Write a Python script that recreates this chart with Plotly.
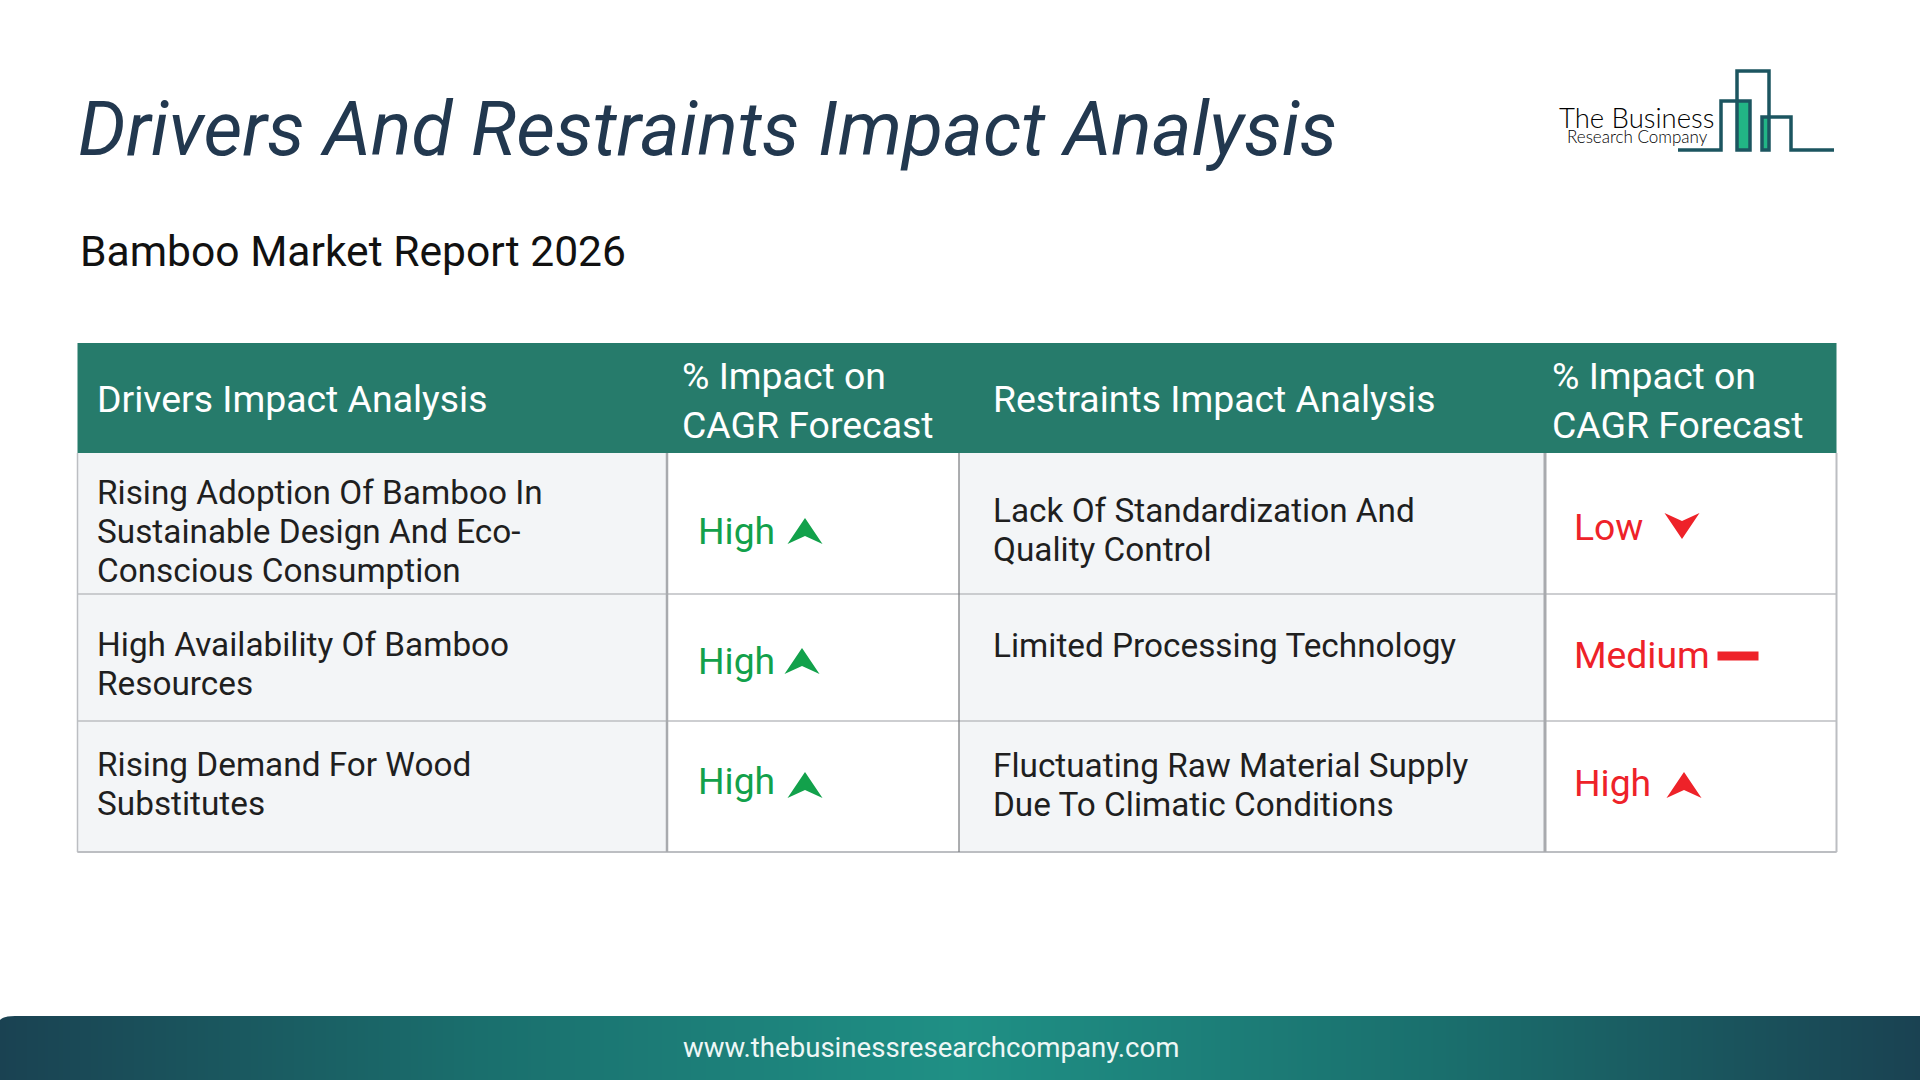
import plotly.graph_objects as go

# ---- content ----
TITLE = "Drivers And Restraints Impact Analysis"
SUBTITLE = "Bamboo Market Report 2026"
FOOTER = "www.thebusinessresearchcompany.com"
LOGO_LINES = ["The Business", "Research Company"]
HEAD_LEFT = "Drivers Impact Analysis"
HEAD_RIGHT = "Restraints Impact Analysis"
HEAD_IMPACT = ["% Impact on", "CAGR Forecast"]
drivers = [
    ["Rising Adoption Of Bamboo In", "Sustainable Design And Eco-", "Conscious Consumption"],
    ["High Availability Of Bamboo", "Resources"],
    ["Rising Demand For Wood", "Substitutes"],
]
driver_impact = ["High", "High", "High"]
restraints = [
    ["Lack Of Standardization And", "Quality Control"],
    ["Limited Processing Technology"],
    ["Fluctuating Raw Material Supply", "Due To Climatic Conditions"],
]
restraint_impact = ["Low", "Medium", "High"]

# ---- layout geometry (pixels of a 1920x1080 canvas) ----
COLS = [77.5, 667, 959, 1545, 1836.5]
ROWS = [343, 453, 594, 721, 852]
DRIVER_Y = [[492, 531, 570], [644, 683], [764, 803]]
RESTRAINT_Y = [[510, 549], [645], [765, 804]]
D_IMPACT_Y = [531, 661, 781]
R_IMPACT_Y = [527, 655, 783]
D_ARROW = [(805, 531), (802, 661), (805, 785)]
R_ARROW = [(1682, 526), (1738, 656), (1684, 785)]
GREEN, RED = "#12a14b", "#ee2229"
FONT = "Roboto"
TXT = "#1f1f1f"
LINE = "#bcbec2"

annotations, shapes = [], []

def text(x, y, s, size, color, anchor="left", **font):
    annotations.append(dict(x=x, y=y, text=s, showarrow=False, xref="x", yref="y",
                            xanchor=anchor, yanchor="middle",
                            font=dict(family=font.pop("family", FONT), size=size, color=color, **font)))

def rect(x0, y0, x1, y1, fill=None, line=None, w=1.5):
    shapes.append(dict(type="rect", xref="x", yref="y", x0=x0, y0=y0, x1=x1, y1=y1,
                       fillcolor=fill or "rgba(0,0,0,0)",
                       line=dict(color=line or "rgba(0,0,0,0)", width=w if line else 0)))

def seg(x0, y0, x1, y1, color=LINE, w=1.5):
    shapes.append(dict(type="line", xref="x", yref="y", x0=x0, y0=y0, x1=x1, y1=y1,
                       line=dict(color=color, width=w)))

def path(d, fill=None, line=None, w=0):
    shapes.append(dict(type="path", xref="x", yref="y", path=d,
                       fillcolor=fill or "rgba(0,0,0,0)",
                       line=dict(color=line or "rgba(0,0,0,0)", width=w)))

def arrow(cx, cy, level, color):
    hw, hh, n = 17.5, 13, 4.5
    if level == "Medium":
        rect(cx - 20.5, cy - 4.5, cx + 20.5, cy + 4.5, fill=color)
        return
    s = 1 if level == "High" else -1
    path(f"M {cx} {cy - s*hh} L {cx + hw} {cy + s*hh} L {cx} {cy + s*(hh - 2*n + 1)} "
         f"L {cx - hw} {cy + s*hh} Z", fill=color)

# table
rect(COLS[0], ROWS[1], COLS[1], ROWS[-1], fill="#f3f5f7")
rect(COLS[2], ROWS[1], COLS[3], ROWS[-1], fill="#f3f5f7")
for y in ROWS[2:]:
    seg(COLS[0], y, COLS[-1], y)
seg(COLS[0], ROWS[-1], COLS[-1], ROWS[-1], w=2)
seg(COLS[0], ROWS[1], COLS[0], ROWS[-1])
seg(COLS[1], ROWS[1], COLS[1], ROWS[-1], color="#a8aaae", w=2.5)
seg(COLS[2], ROWS[1], COLS[2], ROWS[-1], color="#77797c", w=1.2)
seg(COLS[3], ROWS[1], COLS[3], ROWS[-1], color="#a8aaae", w=3)
seg(COLS[4], ROWS[1], COLS[4], ROWS[-1], w=2)
rect(COLS[0], ROWS[0], COLS[-1], ROWS[1], fill="#267b6b")

# header text
HEAD = 37.4
text(95, 399, HEAD_LEFT, HEAD, "#ffffff")
text(991, 399, HEAD_RIGHT, HEAD, "#ffffff")
for x in (680, 1549.5):
    text(x, 376, HEAD_IMPACT[0], HEAD, "#ffffff")
    text(x, 425, HEAD_IMPACT[1], HEAD, "#ffffff")

# body
BODY = 33.35
for lines, ys in zip(drivers, DRIVER_Y):
    for s, y in zip(lines, ys):
        text(95, y, s, BODY, TXT)
for lines, ys in zip(restraints, RESTRAINT_Y):
    for s, y in zip(lines, ys):
        text(991, y, s, BODY, TXT)
for lvl, y, (ax, ay) in zip(driver_impact, D_IMPACT_Y, D_ARROW):
    text(696, y, lvl, 37.3, GREEN)
    arrow(ax, ay, lvl, GREEN)
for lvl, y, (ax, ay) in zip(restraint_impact, R_IMPACT_Y, R_ARROW):
    text(1571.5, y, lvl, 37.3, RED)
    arrow(ax, ay, lvl, RED)

# title block
text(75.5, 129, TITLE, 75.4, "#22384f", style="italic")
text(77.5, 251, SUBTITLE, 42.6, "#111111")

# logo
LOGO = "#1c5560"
rect(1737, 101, 1750, 150, fill="#22b585")
rect(1762, 117, 1769, 150, fill="#22b585")
path("M 1678 150 L 1721 150 L 1721 101 L 1750 101 L 1750 150 L 1737 150 L 1737 71 L 1769 71 "
     "L 1769 150 L 1762 150 L 1762 117 L 1791 117 L 1791 150 L 1834 150", line=LOGO, w=3.5)
text(1636.5, 117, LOGO_LINES[0], 27.5, "#000000", anchor="center", family="Lato", weight=300)
text(1637, 136, LOGO_LINES[1], 17, "#000000", anchor="center", family="Lato", weight=300)

# footer
path("M 0 1016 L 15 1016 C 6 1016 2 1018 0 1020 Z", fill="#ffffff")
text(931, 1047, FOOTER, 27.6, "#eef7f6", anchor="center")

footer = go.Heatmap(x=[0, 480, 960, 1440, 1920], y=[1032, 1064],
                    z=[[0, 0.5, 1, 0.5, 0], [0, 0.5, 1, 0.5, 0]], zsmooth="best", showscale=False,
                    hoverinfo="skip", colorscale=[[0, "#1a4252"], [0.5, "#1a6f6d"], [1, "#1f9085"]])

fig = go.Figure(footer)
fig.update_layout(width=1920, height=1080, margin=dict(l=0, r=0, t=0, b=0),
                  paper_bgcolor="#ffffff", plot_bgcolor="#ffffff", showlegend=False,
                  shapes=shapes, annotations=annotations,
                  xaxis=dict(range=[0, 1920], visible=False, fixedrange=True),
                  yaxis=dict(range=[1080, 0], visible=False, fixedrange=True))
fig.write_html("out.html", post_script="document.body.style.margin='0';document.documentElement.style.overflow='hidden';",
               config=dict(displayModeBar=False))
